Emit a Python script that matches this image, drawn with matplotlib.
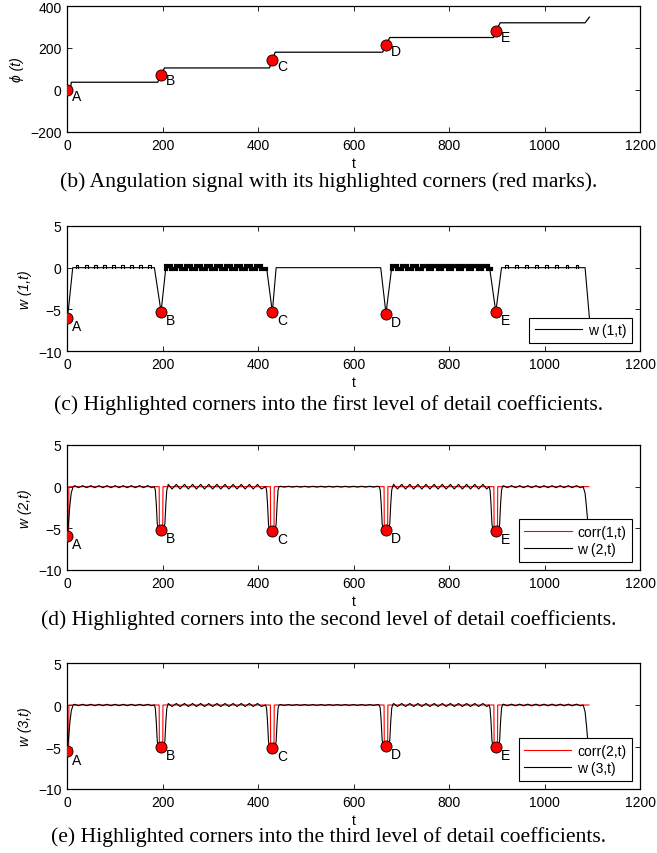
import matplotlib
matplotlib.use("Agg")
import matplotlib.pyplot as plt

# ---------------- data ----------------
corner_names = ["A", "B", "C", "D", "E"]
corner_t = [0, 197, 430, 668, 898]

# (b) angulation signal: staircase breakpoints
phi_t = [0, 7, 9, 190, 204, 424, 436, 661, 676, 893, 907, 1085, 1094]
phi_v = [0, 0, 37, 37, 105, 105, 180, 180, 250, 250, 320, 320, 347]
phi_corner_v = [0, 72, 143, 214, 281]

# (c) first level of detail coefficients: main shape
w1_t = [0, 3, 12, 183, 197, 207, 418, 430, 438, 657, 668, 680, 885, 898, 910, 1085, 1097]
w1_v = [-6.0, -5.0, 0, 0, -5.3, 0, 0, -5.3, 0, 0, -5.5, 0, 0, -5.3, 0, 0, -8.0]
w1_corner_v = [-6.0, -5.3, -5.3, -5.5, -5.3]
# short upward pulses on the quiet stretches (A-B, E-end)
w1_pulse_starts = [18, 37, 56, 75, 94, 113, 132, 151, 170,
                   918, 939, 960, 981, 1002, 1023, 1044, 1065]
w1_pulse_height = 0.35
w1_pulse_width = 6
# crenellated dense oscillation on B-C and D-E
w1_block_starts = [[207, 228, 249, 270, 291, 312, 333, 354, 375, 396],
                   [681, 702, 723, 744, 765, 786, 807, 828, 849, 870]]
w1_block_ends = [416, 889]
w1_block_levels = [0.25, -0.15]
w1_block_width = 11

# (d), (e) correlation spikes and detail coefficients
corr1_v = [-5.9, -5.2, -5.3, -5.2, -5.3]
w2_corner_v = [-5.9, -5.2, -5.3, -5.2, -5.3]
corr2_v = [-5.5, -5.0, -5.1, -4.9, -5.0]
w3_corner_v = [-5.5, -5.0, -5.1, -4.9, -5.0]
corr_end = 1093
corr_spike_dt = [-4, -3.5, 3.5, 4]

# ripple vertex times between consecutive corners
rip_ab = [16, 24, 33, 41, 50, 58, 67, 75, 84, 92, 101, 109, 118, 126, 135, 143, 152, 160, 169, 177]
rip_bc = [212, 220, 229, 237, 246, 254, 263, 271, 280, 288, 297, 305, 314, 322, 331, 339,
          348, 356, 365, 373, 382, 390, 399, 407]
rip_cd = [447, 455, 464, 472, 481, 489, 498, 506, 515, 523, 532, 540, 549, 557, 566, 574,
          583, 591, 600, 608, 617, 625, 634, 642, 650]
rip_de = [684, 692, 701, 709, 718, 726, 735, 743, 752, 760, 769, 777, 786, 794, 803, 811,
          820, 828, 837, 845, 854, 862, 871, 879]
rip_ee = [914, 922, 931, 939, 948, 956, 965, 973, 982, 990, 999, 1007, 1016, 1024, 1033,
          1041, 1050, 1058, 1067, 1075]
w2_ripple_amp = [0.12, 0.28, 0.05, 0.28, 0.12]
w3_ripple_amp = [0.08, 0.18, 0.05, 0.18, 0.10]

# dip profile around a corner (offset, fraction of corner depth)
dip_dt = [-14, -12, -10, -8, -6, 0, 6, 8, 10, 12, 14]
dip_frac = [0, 0.08, 0.4, 0.85, 0.98, 1, 0.98, 0.85, 0.4, 0.08, 0]
rise_dt = [0, 3, 6, 9, 13]
rise_frac = [1, 0.75, 0.38, 0.12, 0]
drop_t = [1081, 1085, 1088, 1091, 1096]
drop_v = [0, -0.8, -2.5, -4.5, -7.5]

x_ticks = [0, 200, 400, 600, 800, 1000, 1200]
phi_ticks = [-200, 0, 200, 400]
w_ticks = [-10, -5, 0, 5]

captions = [
    "(b) Angulation signal with its highlighted corners (red marks).",
    "(c) Highlighted corners into the first level of detail coefficients.",
    "(d) Highlighted corners into the second level of detail coefficients.",
    "(e) Highlighted corners into the third level of detail coefficients.",
]


# ---------------- helpers ----------------
def coeff_curve(depths, amps):
    ts, vs = [], []
    for dt, f in zip(rise_dt, rise_frac):
        ts.append(corner_t[0] + dt)
        vs.append(depths[0] * f)
    segments = [rip_ab, rip_bc, rip_cd, rip_de, rip_ee]
    for k, seg in enumerate(segments):
        for j, t in enumerate(seg):
            ts.append(t)
            vs.append(amps[k] if j % 2 == 0 else -amps[k])
        if k + 1 < len(corner_t):
            c, d = corner_t[k + 1], depths[k + 1]
            for dt, f in zip(dip_dt, dip_frac):
                ts.append(c + dt)
                vs.append(d * f)
    return ts + drop_t, vs + drop_v


def corr_curve(depths):
    ts, vs = [0, 0, 3.5, 4], [0, depths[0], depths[0], 0]
    for c, d in zip(corner_t[1:], depths[1:]):
        for dt, f in zip(corr_spike_dt, [0, 1, 1, 0]):
            ts.append(c + dt)
            vs.append(d * f)
    ts.append(corr_end)
    vs.append(0)
    return ts, vs


SANS = ["Liberation Sans", "DejaVu Sans"]
plt.rcParams["font.family"] = SANS
plt.rcParams["axes.unicode_minus"] = True

fig = plt.figure(figsize=(6.57, 8.54), dpi=100)
W, H = 657.0, 854.0
ax_left, ax_right = 67, 640
ax_boxes = [(7, 133), (227, 352), (446, 571), (664, 790)]
caption_y = [182, 405, 620, 837]
TICK_FS = 10

axes = []
for top, bot in ax_boxes:
    ax = fig.add_axes([ax_left / W, 1 - bot / H, (ax_right - ax_left) / W, (bot - top) / H])
    ax.tick_params(direction="in", top=True, right=True, length=3.6, width=0.6,
                   labelsize=TICK_FS, pad=4)
    for s in ax.spines.values():
        s.set_linewidth(0.9)
    ax.set_xlim(0, 1200)
    ax.set_xticks(x_ticks)
    ax.set_xlabel("t", fontsize=10, labelpad=3)
    axes.append(ax)


def mark_corners(ax, values, dy):
    ax.plot(corner_t, values, linestyle="none", marker="o", markersize=8,
            markerfacecolor="red", markeredgecolor="black", markeredgewidth=0.6, zorder=5)
    for name, t, v in zip(corner_names, corner_t, values):
        ax.annotate(name, (t, v), xytext=(7, dy), textcoords="offset points",
                    ha="center", va="center", fontsize=10, zorder=6)


def add_legend(ax, handles):
    leg = ax.legend(handles=handles, loc="lower right", fontsize=TICK_FS, frameon=True,
                    fancybox=False, edgecolor="black", framealpha=1, borderaxespad=0.6,
                    handlelength=3.4, handletextpad=0.4, borderpad=0.4, labelspacing=0.25)
    leg.get_frame().set_linewidth(0.8)


# (b)
ax = axes[0]
ax.plot(phi_t, phi_v, color="black", lw=0.9)
mark_corners(ax, phi_corner_v, -4)
ax.set_ylim(-200, 400)
ax.set_yticks(phi_ticks)
ax.set_ylabel("ϕ (t)", fontsize=10, style="italic")

# (c)
ax = axes[1]
line_w1, = ax.plot(w1_t, w1_v, color="black", lw=0.8, label="w (1,t)")
for s in w1_pulse_starts:
    ax.plot([s, s, s + w1_pulse_width, s + w1_pulse_width],
            [0, w1_pulse_height, w1_pulse_height, 0], color="black", lw=0.8)
hi, lo = w1_block_levels
for starts, end in zip(w1_block_starts, w1_block_ends):
    bt, bv = [], []
    for i, s in enumerate(starts):
        nxt = starts[i + 1] if i + 1 < len(starts) else end
        bt += [s, s, s + w1_block_width, s + w1_block_width, nxt]
        bv += [lo, hi, hi, lo, lo]
    ax.plot(bt, bv, color="black", lw=3.0, solid_joinstyle="miter")
mark_corners(ax, w1_corner_v, -6)
ax.set_ylim(-10, 5)
ax.set_yticks(w_ticks)
ax.set_ylabel("w (1,t)", fontsize=10, style="italic")
add_legend(ax, [line_w1])

# (d), (e)
panels = [(axes[2], corr1_v, w2_corner_v, w2_ripple_amp, "corr(1,t)", "w (2,t)"),
          (axes[3], corr2_v, w3_corner_v, w3_ripple_amp, "corr(2,t)", "w (3,t)")]
for ax, cv, wv, amps, clab, wlab in panels:
    ct, cvals = corr_curve(cv)
    lc, = ax.plot(ct, cvals, color="red", lw=0.8, label=clab)
    wt, wvals = coeff_curve(wv, amps)
    lw_, = ax.plot(wt, wvals, color="black", lw=0.8, label=wlab)
    mark_corners(ax, wv, -6)
    ax.set_ylim(-10, 5)
    ax.set_yticks(w_ticks)
    ax.set_ylabel(wlab, fontsize=10, style="italic")
    add_legend(ax, [lc, lw_])

for cap, y in zip(captions, caption_y):
    fig.text(0.5, 1 - y / H, cap, ha="center", va="center", fontsize=15.6,
             family=["Liberation Serif", "DejaVu Serif"])

fig.savefig("out.png", dpi=100)
